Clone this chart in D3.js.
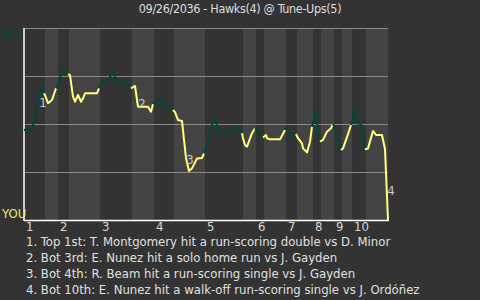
<!DOCTYPE html>
<html>
<head>
<meta charset="utf-8">
<script src="https://cdn.jsdelivr.net/npm/d3@7"></script>
<style>
  body { margin: 0; background: #333333; }
  text { font-family: "Liberation Sans Narrow", "DejaVu Sans Condensed", sans-serif; }
</style>
</head>
<body>
<div id="container"></div>
<script>
// game data: pitch count per half inning (top, bottom, top, bottom ...)
let title = "09/26/2036 - Hawks(4) @ Tune-Ups(5)";
let halfInningPitches = [21, 13, 11, 31, 32, 22, 20, 31, 38, 13, 8, 22, 11, 16, 8, 13, 8, 10, 14, 22];
let inningLabels = ["1", "2", "3", "4", "5", "6", "7", "8", "9", "10"];
let teamLabels = ["BOI", "YOU"];

// win probability for YOU (home) after each pitch
let playPitch = [0, 6, 11, 14, 17, 20,
  21, 24, 28, 32,
  34, 38, 41, 44,
  46, 49, 51, 54, 57, 59, 61, 73, 75,
  76, 83, 86, 89, 93, 104, 107,
  111, 114, 119, 124, 127, 129,
  130, 133, 136, 139, 144, 149,
  151, 154, 158, 160, 162, 165, 168, 173, 178, 180,
  184, 186, 189, 192, 194, 208, 214, 218,
  219, 221, 223, 228, 231,
  234, 236, 239,
  242, 243, 246, 256, 261,
  262, 266, 269, 272,
  274, 278, 279, 283, 286, 288,
  291, 292, 294, 296,
  299, 303, 307, 309,
  310, 314, 317,
  319, 323, 327,
  331, 333, 337, 341,
  344, 349, 352, 358, 361, 362, 363, 364];
let youWinPct = [53, 54, 48, 37.5, 30.6, 34,
  35, 39.2, 37.5, 31.4,
  29.7, 22.2, 22.9, 24,
  24.5, 35.8, 38.4, 34.9, 38.4, 36.6, 34, 34, 31.4,
  29.7, 27.1, 25.5, 22.8, 28, 28.4, 31.4,
  30.2, 41, 41, 41, 43.6, 39.6,
  38.4, 39.2, 37.1, 40.1, 40.1, 42.7,
  43.8, 47.9, 48.4, 58.3, 67.7, 74.5, 73.1, 68, 67.7, 65.3,
  60.1, 54.8, 48.2, 47.9, 54.8, 54.8, 51, 54.8,
  57.4, 60.9, 61.8, 54.8, 52.2,
  54, 55.7, 57,
  55.7, 57.4, 58, 58, 53.1,
  51.7, 55.2, 57, 55.2,
  57.4, 60.1, 62.7, 64.8, 59.2, 51.4,
  44.4, 43.6, 52.1, 59.2,
  58.3, 54, 52.2, 50,
  51.4, 58.3, 63.5,
  62.7, 56.8, 50.5,
  42.2, 49.6, 50, 63.3,
  62.7, 53.6, 55.7, 55.7, 63, 75.7, 87.5, 100];

// scoring plays
let noteLabels = ["1", "2", "3", "4"];
let notePitch = [19, 118, 166, 364];
let noteTexts = [
  "1. Top 1st: T. Montgomery hit a run-scoring double vs D. Minor",
  "2. Bot 3rd: E. Nunez hit a solo home run vs J. Gayden",
  "3. Bot 4th: R. Beam hit a run-scoring single vs J. Gayden",
  "4. Bot 10th: E. Nunez hit a walk-off run-scoring single vs J. Ordóñez"
];
let gridPct = [0, 25, 50, 75];

let w = 480;
let h = 300;
let plotLeft = 24, plotRight = 388, plotTop = 28, plotBottom = 220;
let green = "#00483a";
let yellow = "#ffff80";

let viz = d3.select("#container")
  .append("svg")
    .attr("width", w)
    .attr("height", h)
    .style("background", "#333333")
;

let starts = [0];
halfInningPitches.forEach(function(n, i){ starts.push(starts[i] + n); });
let total = starts[starts.length - 1];

let xScale = d3.scaleLinear().domain([0, total]).range([plotLeft, plotRight]);
let yScale = d3.scaleLinear().domain([0, 100]).range([plotTop, plotBottom]);

// half inning bands
viz.selectAll(".band").data(halfInningPitches).enter()
  .append("rect")
    .attr("class", "band")
    .attr("x", function(d, i){ return xScale(starts[i]); })
    .attr("width", function(d, i){ return xScale(starts[i + 1]) - xScale(starts[i]); })
    .attr("y", plotTop)
    .attr("height", plotBottom - plotTop)
    .attr("fill", function(d, i){ return i % 2 == 0 ? "#333333" : "#444444"; })
;

viz.selectAll(".grid").data(gridPct).enter()
  .append("line")
    .attr("x1", plotLeft)
    .attr("x2", plotRight)
    .attr("y1", function(d){ return yScale(d) + 0.5; })
    .attr("y2", function(d){ return yScale(d) + 0.5; })
    .attr("stroke", "#8a8a8a")
    .attr("stroke-width", 1)
;

// axes
viz.append("line")
  .attr("x1", plotLeft).attr("x2", plotLeft)
  .attr("y1", plotTop).attr("y2", plotBottom + 1)
  .attr("stroke", "#ffffff").attr("stroke-width", 1.5);
viz.append("line")
  .attr("x1", plotLeft).attr("x2", plotRight + 1)
  .attr("y1", plotBottom + 0.5).attr("y2", plotBottom + 0.5)
  .attr("stroke", "#ffffff").attr("stroke-width", 1.5);

// the win probability line, one path per half inning
let points = playPitch.map(function(p, i){ return {pitch: p, pct: youWinPct[i]}; });
let lineMaker = d3.line()
  .x(function(d){ return xScale(d.pitch); })
  .y(function(d){ return yScale(d.pct); })
;
halfInningPitches.forEach(function(n, i){
  let seg = [];
  points.forEach(function(d, j){
    let inside = d.pitch >= starts[i] && (d.pitch < starts[i + 1] || (i == halfInningPitches.length - 1));
    if (inside) {
      if (seg.length == 0 && j > 0) seg.push(points[j - 1]);
      seg.push(d);
    }
  });
  viz.append("path")
    .datum(seg)
    .attr("d", lineMaker)
    .attr("fill", "none")
    .attr("stroke", i % 2 == 0 ? green : yellow)
    .attr("stroke-width", 2)
    .attr("stroke-linejoin", "round")
  ;
});

// scoring play markers
let noteOffset = [[0, 16], [0, 1.5], [0, -6], [3, -25]];
function pctAt(p){
  let i = d3.bisector(function(d){ return d.pitch; }).left(points, p);
  if (i <= 0) return points[0].pct;
  if (i >= points.length) return points[points.length - 1].pct;
  let a = points[i - 1], b = points[i];
  return a.pct + (b.pct - a.pct) * (p - a.pitch) / (b.pitch - a.pitch);
}
viz.selectAll(".note").data(noteLabels).enter()
  .append("text")
    .attr("x", function(d, i){ return xScale(notePitch[i]) + noteOffset[i][0]; })
    .attr("y", function(d, i){ return yScale(pctAt(notePitch[i])) + noteOffset[i][1]; })
    .attr("text-anchor", "middle")
    .attr("font-size", 13)
    .attr("fill", "#c8c8c8")
    .text(function(d){ return d; })
;

// inning labels at the start of each top half
viz.selectAll(".inning").data(inningLabels).enter()
  .append("text")
    .attr("x", function(d, i){ return xScale(starts[i * 2]) + 2; })
    .attr("y", 231)
    .attr("font-size", 13)
    .attr("fill", "#d8d8d8")
    .text(function(d){ return d; })
;

viz.append("text")
  .attr("x", 2).attr("y", 38)
  .attr("font-size", 13)
  .attr("fill", green)
  .text(teamLabels[0]);
viz.append("text")
  .attr("x", 2).attr("y", 218)
  .attr("font-size", 13)
  .attr("fill", "#e8e878")
  .text(teamLabels[1]);

viz.append("text")
  .attr("x", w / 2).attr("y", 13)
  .attr("text-anchor", "middle")
  .attr("font-size", 12.5)
  .attr("letter-spacing", -0.35)
  .attr("fill", "#dddddd")
  .text(title);

viz.selectAll(".foot").data(noteTexts).enter()
  .append("text")
    .attr("x", 26)
    .attr("y", function(d, i){ return 246 + i * 16; })
    .attr("font-size", 13)
    .attr("fill", "#e0e0e0")
    .text(function(d){ return d; })
;
</script>
</body>
</html>
